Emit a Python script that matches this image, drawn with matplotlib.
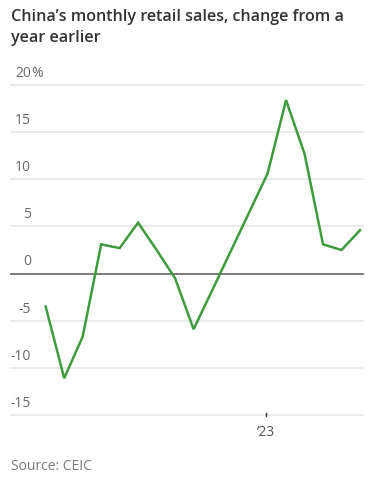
import matplotlib
matplotlib.use("Agg")
import matplotlib.pyplot as plt
import matplotlib.transforms as mtransforms

# Data: China's monthly retail sales, % change from a year earlier
months = ["2022-03", "2022-04", "2022-05", "2022-06", "2022-07", "2022-08",
          "2022-09", "2022-10", "2022-11", "2022-12",
          "2023-03", "2023-04", "2023-05", "2023-06", "2023-07", "2023-08"]
values = [-3.5, -11.1, -6.7, 3.1, 2.7, 5.4, 2.5, -0.5, -5.9, -1.8,
          10.6, 18.4, 12.7, 3.1, 2.5, 4.6]
y_ticks = [20, 15, 10, 5, 0, -5, -10, -15]
y_labels = ["20", "15", "10", "5", "0", "-5", "-10", "-15"]
x_tick_month = "2023-03"
x_tick_label = "\u201923"

def month_index(m):
    y, mo = m.split("-")
    return (int(y) - 2022) * 12 + int(mo) - 3

xs = [month_index(m) for m in months]

W, H = 381, 480
fig = plt.figure(figsize=(W / 100, H / 100), dpi=100)
fig.patch.set_facecolor("white")

FONT = "Open Sans"
left_px, right_px, top_px, bot_px = 11, 363, 85, 415
ax = fig.add_axes([left_px / W, 1 - bot_px / H, (right_px - left_px) / W, (bot_px - top_px) / H])
ax.set_facecolor("none")
for s in ax.spines.values():
    s.set_visible(False)
ax.set_xticks([])
ax.set_yticks([])

px_per_month = 18.5
x0_px = 45.7
ax.set_xlim(-(x0_px - left_px) / px_per_month, 17 + (right_px - 360) / px_per_month)
ax.set_ylim(-15, 20)

for t in y_ticks:
    if t == 0:
        ax.axhline(t, color="#6e6e6e", lw=1.3, zorder=2, clip_on=False)
    else:
        ax.axhline(t, color="#e6e6e6", lw=1.2, zorder=1, clip_on=False)

ax.plot(xs, values, color="#3e9b3e", lw=1.8, zorder=3, solid_joinstyle="miter", clip_on=False)

# y tick labels above gridlines, right aligned
trans = mtransforms.offset_copy(ax.get_yaxis_transform(), fig=fig, x=0, y=3.0, units="points")
lab_x = (31 - left_px) / (right_px - left_px)
for t, lab in zip(y_ticks, y_labels):
    ax.text(lab_x, t, lab, transform=trans, ha="right", va="bottom",
            fontsize=10, color="#666666", family=FONT)
    if t == 20:
        ax.text(lab_x, t, "%", transform=trans, ha="left", va="bottom",
                fontsize=10, color="#666666", family=FONT)

# x tick
xt = month_index(x_tick_month) - 0.08
ax.plot([xt, xt], [-15.15, -14.75], color="#333333", lw=1.0, zorder=4, clip_on=False)
ax.text(xt, -15, x_tick_label, transform=mtransforms.offset_copy(ax.transData, fig=fig, y=-7, units="points"),
        ha="center", va="top", fontsize=10, color="#555555", family=FONT)

fig.text(11 / W, 1 - 9 / H,
         "China\u2019s monthly retail sales, change from a\nyear earlier",
         ha="left", va="top", fontsize=11.6, fontweight="semibold", color="#333333",
         family=FONT, linespacing=1.38)
fig.text(11 / W, 1 - 466 / H, "Source: CEIC", ha="left", va="center",
         fontsize=10, color="#777777", family=FONT)

fig.savefig("out.png", dpi=100, facecolor="white")
